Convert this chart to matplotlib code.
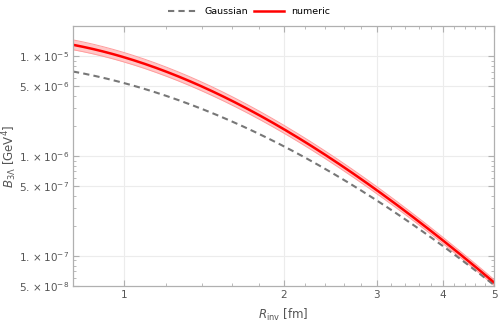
import numpy as np
import matplotlib
matplotlib.use("Agg")
import matplotlib.pyplot as plt
from matplotlib.ticker import FixedLocator, NullFormatter

# values
R = [0.8, 1.0, 1.49, 2.0, 2.5, 3.0, 4.0, 5.0]
gauss = [7.13e-6, 5.21e-6, 2.61e-6, 1.24e-6, 6.9e-7, 3.55e-7, 1.20e-7, 5.25e-8]
numeric = [1.29e-5, 9.9e-6, 4.14e-6, 1.82e-6, 9.8e-7, 4.37e-7, 1.39e-7, 5.53e-8]
band_frac = [0.12, 0.115, 0.105, 0.095, 0.09, 0.085, 0.075, 0.07]

ytick_vals = [5e-8, 1e-7, 5e-7, 1e-6, 5e-6, 1e-5]
ytick_labels = [r"$5.\times10^{-8}$", r"$1.\times10^{-7}$", r"$5.\times10^{-7}$",
                r"$1.\times10^{-6}$", r"$5.\times10^{-6}$", r"$1.\times10^{-5}$"]
xtick_vals = [1, 2, 3, 4, 5]

plt.rcParams['mathtext.fontset'] = 'dejavusans'
plt.rcParams['font.family'] = 'DejaVu Sans'

# smooth curves in log-log space
R_fine = np.logspace(np.log10(0.8), np.log10(5.0), 300)
lr = np.log10(R)
lf = np.log10(R_fine)
def smooth(vals):
    c = np.polyfit(lr, np.log10(vals), 3)
    return 10 ** np.polyval(c, lf)

g_f = smooth(gauss)
n_f = smooth(numeric)
b_f = np.interp(lf, lr, band_frac)
lo = n_f / (1 + b_f)
hi = n_f * (1 + b_f)

fig = plt.figure(figsize=(4.98, 3.27), dpi=100)
ax = fig.add_axes([73/498, 1 - 286/327, (494-73)/498, (286-26)/327])

ax.fill_between(R_fine, lo, hi, color='#ffc8c8', lw=0)
ax.plot(R_fine, lo, color='#ff9c9c', lw=0.7)
ax.plot(R_fine, hi, color='#ff9c9c', lw=0.7)
ax.plot(R_fine, g_f, color='#777777', lw=1.5, ls=(0, (3, 2)), label='Gaussian')
ax.plot(R_fine, n_f, color='red', lw=1.8, label='numeric')

ax.set_xscale('log')
ax.set_yscale('log')
ax.set_xlim(0.8, 5)
ax.set_ylim(5e-8, 2e-5)

ax.xaxis.set_major_locator(FixedLocator(xtick_vals))
ax.set_xticklabels([str(v) for v in xtick_vals])
minor_x = [v for v in np.round(np.arange(0.8, 5.0, 0.2), 1) if v not in xtick_vals]
ax.xaxis.set_minor_locator(FixedLocator(minor_x))
ax.xaxis.set_minor_formatter(NullFormatter())
ax.yaxis.set_major_locator(FixedLocator(ytick_vals))
ax.set_yticklabels(ytick_labels)
minor_y = [m * 10.0 ** e for e in (-8, -7, -6, -5) for m in range(2, 10)
           if m != 5 and 5e-8 < m * 10.0 ** e < 2e-5]
ax.yaxis.set_minor_locator(FixedLocator(minor_y))
ax.yaxis.set_minor_formatter(NullFormatter())

for sp in ax.spines.values():
    sp.set_color('#b0b0b0')
    sp.set_linewidth(0.9)
ax.tick_params(which='both', direction='in', top=True, right=True, color='#b0b0b0',
               labelcolor='#555555', labelsize=7.5, pad=3)
ax.tick_params(which='major', length=4)
ax.tick_params(which='minor', length=2)

for x in [1, 2, 3, 4]:
    ax.axvline(x, color='#ececec', lw=0.8, zorder=0)
for y in [1e-7, 5e-7, 1e-6, 5e-6, 1e-5]:
    ax.axhline(y, color='#ececec', lw=0.8, zorder=0)

ax.set_xlabel(r"$R_{\mathrm{inv}}$ [fm]", color='#555555', fontsize=8.5, labelpad=5)
ax.set_ylabel(r"$B_{3\Lambda}$ [GeV$^4$]", color='#555555', fontsize=8.5)
ax.yaxis.set_label_coords(-0.128, 0.5)

fig.legend(loc='center', bbox_to_anchor=(0.5, 1 - 12/327), ncol=2, frameon=False,
           fontsize=6.8, handlelength=3.2, handletextpad=0.7, columnspacing=0.6)

fig.savefig('out.png', dpi=100)
